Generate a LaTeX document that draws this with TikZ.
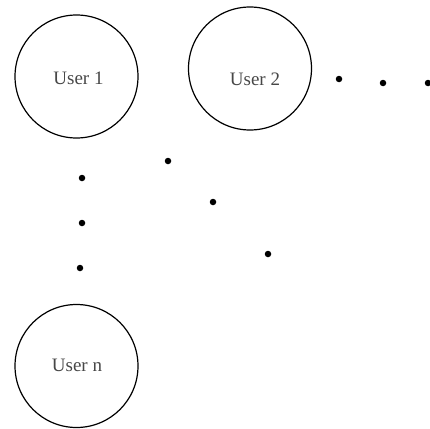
\documentclass[tikz,border=0pt]{standalone}
\usepackage{fontspec}
\setmainfont{Liberation Serif}
\begin{document}
\begin{tikzpicture}[x=1pt,y=-1pt,
  user/.style={circle,draw=black,line width=1.2pt,minimum size=123pt,inner sep=0pt},
  utext/.style={text=black!72,font=\fontsize{19}{21}\selectfont,inner sep=0pt},
  dotn/.style={circle,fill=black,inner sep=0pt,minimum size=6.5pt}]
\useasboundingbox (0,0) rectangle (430,428);
\node[user] (u1) at (76.5,76.5) {};
\node[user] (u2) at (250,68.5) {};
\node[user] (un) at (76.5,366) {};
\node[utext] (t1) at (78.5,78) {User 1};
\node[utext] (t2) at (255,79) {User 2};
\node[utext] (tn) at (77,365) {User n};
\node[dotn] (h1) at (339,79) {};
\node[dotn] (h2) at (383,83) {};
\node[dotn] (h3) at (428,83) {};
\node[dotn] (v1) at (82,178) {};
\node[dotn] (v2) at (82,223) {};
\node[dotn] (v3) at (80,268) {};
\node[dotn] (d1) at (168,161) {};
\node[dotn] (d2) at (213,202) {};
\node[dotn] (d3) at (268,254) {};
\end{tikzpicture}
\end{document}
